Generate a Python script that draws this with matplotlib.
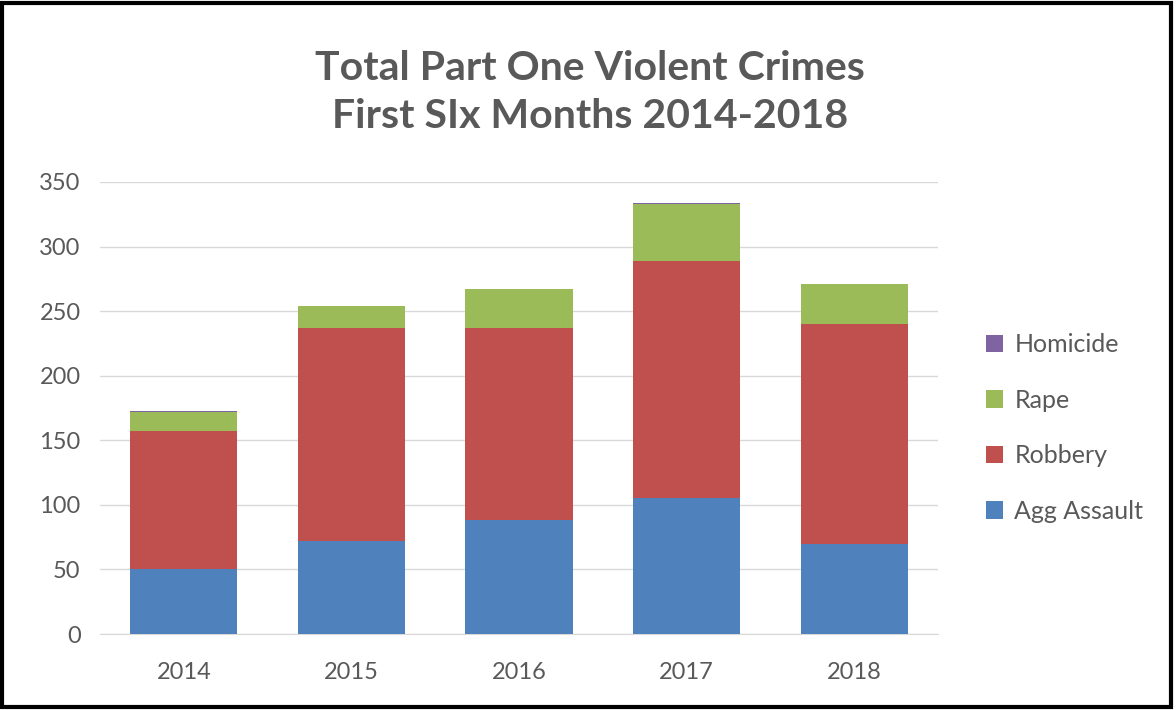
import matplotlib
matplotlib.use('Agg')
import matplotlib.pyplot as plt
import numpy as np
from matplotlib.patches import Rectangle

plt.rcParams['font.family'] = ['Lato', 'DejaVu Sans']

years = ['2014', '2015', '2016', '2017', '2018']
agg_assault = [50, 72, 88, 105, 70]
robbery = [107, 165, 149, 184, 170]
rape = [15, 17, 30, 44, 31]
homicide = [1, 0, 0, 1, 0]

series = [('Agg Assault', agg_assault, '#4F81BD'),
          ('Robbery', robbery, '#C0504D'),
          ('Rape', rape, '#9BBB59'),
          ('Homicide', homicide, '#8064A2')]

fig = plt.figure(figsize=(11.76, 7.1), dpi=100)
ax = fig.add_axes([0.085, 0.107, 0.7126, 0.6367])

x = np.arange(len(years))
bottom = np.zeros(len(years))
handles = []
for name, vals, col in series:
    b = ax.bar(x, vals, 0.64, bottom=bottom, color=col, label=name, zorder=3)
    handles.append(b)
    bottom += np.array(vals)

ax.set_xlim(-0.5, 4.5)
ax.set_ylim(0, 350)
ax.set_yticks(range(0, 351, 50))
ax.set_xticks(x)
ax.set_xticklabels(years)
ax.grid(axis='y', color='#D9D9D9', linewidth=1, zorder=0)
for s in ['top', 'right', 'left']:
    ax.spines[s].set_visible(False)
ax.spines['bottom'].set_color('#D9D9D9')
ax.tick_params(length=0, labelsize=17, colors='#595959')
ax.tick_params(axis='x', pad=20)
ax.tick_params(axis='y', pad=14)

fig.text(0.502, 0.87, 'Total Part One Violent Crimes\nFirst SIx Months 2014-2018',
         ha='center', va='center', fontsize=29.5, fontweight='bold',
         color='#595959', linespacing=1.35)

leg = ax.legend(handles[::-1], [h.get_label() for h in handles[::-1]],
                loc='center left', bbox_to_anchor=(1.03, 0.456), frameon=False,
                fontsize=18, labelspacing=1.3, handlelength=0.7,
                handleheight=0.7, handletextpad=0.45)
for t in leg.get_texts():
    t.set_color('#595959')

fig.add_artist(Rectangle((0.002, 0.004), 0.994, 0.992, transform=fig.transFigure,
                         fill=False, edgecolor='black', linewidth=3))

fig.savefig('out.png', dpi=100)
